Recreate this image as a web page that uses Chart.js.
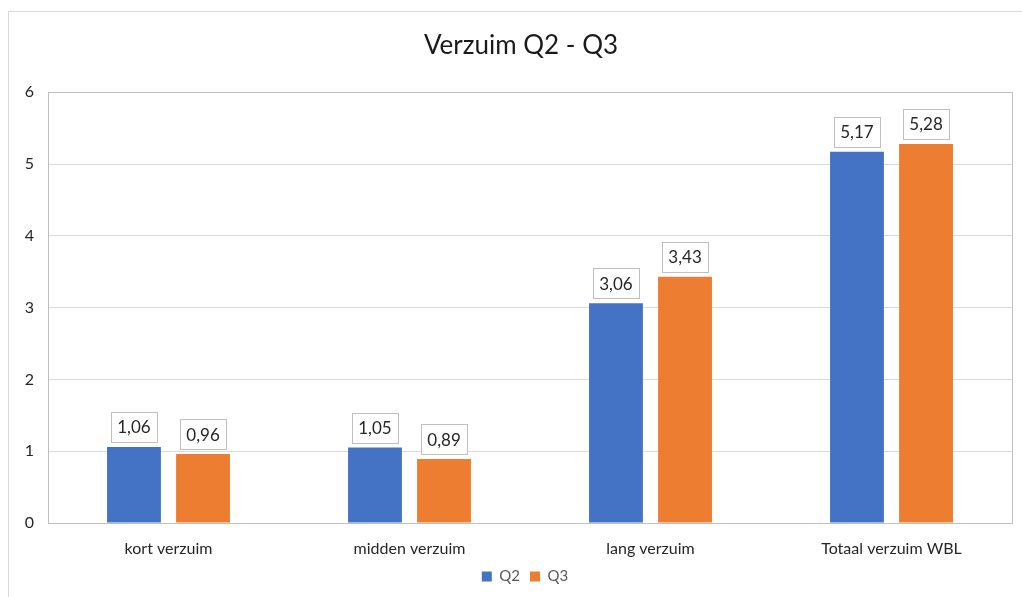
<!DOCTYPE html>
<html>
<head>
<meta charset="utf-8">
<script src="https://cdn.jsdelivr.net/npm/chart.js@4"></script>
<style>
  html, body { margin: 0; padding: 0; background: #fff; }
  #wrap { position: relative; width: 1022px; height: 597px; overflow: hidden; }
  #frame { position: absolute; left: 8px; top: 11px; width: 1100px; height: 700px;
           border-left: 1px solid #d9d9d9; border-top: 1px solid #d9d9d9; }
  canvas { position: absolute; left: 0; top: 0; }
</style>
</head>
<body>
<div id="wrap">
  <div id="frame"></div>
  <canvas id="chart" width="1022" height="597"></canvas>
</div>
<script>
// chart data
const categories = ['kort verzuim', 'midden verzuim', 'lang verzuim', 'Totaal verzuim WBL'];
const q2Values = [1.06, 1.05, 3.06, 5.17];
const q3Values = [0.96, 0.89, 3.43, 5.28];
const seriesNames = ['Q2', 'Q3'];
const yTicks = [0, 1, 2, 3, 4, 5, 6];

const FONT = 'Lato, "Open Sans", sans-serif';

// draws the boxed value labels above each bar
const boxedLabels = {
  id: 'boxedLabels',
  afterDatasetsDraw(chart) {
    const ctx = chart.ctx;
    ctx.save();
    ctx.font = '17px ' + FONT;
    ctx.textAlign = 'center';
    ctx.textBaseline = 'middle';
    chart.data.datasets.forEach((ds, i) => {
      chart.getDatasetMeta(i).data.forEach((bar, j) => {
        const text = ds.data[j].toFixed(2).replace('.', ',');
        const w = ctx.measureText(text).width + 13;
        const h = 30;
        const x = bar.x - w / 2;
        const y = bar.y - 5 - h;
        ctx.fillStyle = '#fff';
        ctx.fillRect(x, y, w, h);
        ctx.strokeStyle = '#bfbfbf';
        ctx.lineWidth = 1;
        ctx.strokeRect(Math.round(x) + 0.5, Math.round(y) + 0.5, Math.round(w), h);
        ctx.fillStyle = '#262626';
        ctx.fillText(text, bar.x, y + h / 2 + 1);
      });
    });
    ctx.restore();
  }
};

// grey border round the plot area
const plotBorder = {
  id: 'plotBorder',
  afterDraw(chart) {
    const a = chart.chartArea;
    const ctx = chart.ctx;
    ctx.save();
    ctx.strokeStyle = '#bfbfbf';
    ctx.lineWidth = 1;
    ctx.strokeRect(Math.round(a.left) + 0.5, Math.round(a.top) + 0.5,
                   Math.round(a.right - a.left), Math.round(a.bottom - a.top));
    ctx.restore();
  }
};

// title and legend are centred on the whole chart box, which runs past the right edge
const shiftBlocks = {
  id: 'shiftBlocks',
  afterLayout(chart) {
    if (chart.titleBlock) {
      chart.titleBlock.left += 11;
      chart.titleBlock.right += 11;
    }
    if (chart.legend) {
      chart.legend.left += 15;
      chart.legend.right += 15;
    }
  }
};

new Chart(document.getElementById('chart'), {
  type: 'bar',
  data: {
    labels: categories,
    datasets: [
      { label: seriesNames[0], data: q2Values, backgroundColor: '#4472c4',
        categoryPercentage: 0.573, barPercentage: 0.78 },
      { label: seriesNames[1], data: q3Values, backgroundColor: '#ed7d31',
        categoryPercentage: 0.573, barPercentage: 0.78 }
    ]
  },
  options: {
    responsive: false,
    animation: false,
    layout: { padding: { left: 8, top: 11, right: 10, bottom: 3 } },
    plugins: {
      title: {
        display: true,
        text: 'Verzuim Q2 - Q3',
        color: '#1a1a1a',
        font: { family: FONT, size: 26, weight: 'normal' },
        padding: { top: 19, bottom: 31 }
      },
      legend: {
        position: 'bottom',
        labels: {
          color: '#595959',
          font: { family: FONT, size: 15 },
          boxWidth: 10, boxHeight: 10,
          padding: 10
        }
      },
      tooltip: { enabled: false }
    },
    scales: {
      x: {
        grid: { display: false, drawTicks: false },
        border: { color: '#bfbfbf' },
        ticks: { color: '#262626', font: { family: FONT, size: 16 }, padding: 16 },
        afterFit(s) { s.height = 36; }
      },
      y: {
        min: 0, max: 6,
        afterBuildTicks(s) { s.ticks = yTicks.map(v => ({ value: v })); },
        grid: { color: '#d9d9d9', drawTicks: false },
        border: { display: false },
        ticks: { color: '#262626', font: { family: FONT, size: 16 }, padding: 14 },
        afterFit(s) { s.width = 40; }
      }
    }
  },
  plugins: [plotBorder, boxedLabels, shiftBlocks]
});
</script>
</body>
</html>
